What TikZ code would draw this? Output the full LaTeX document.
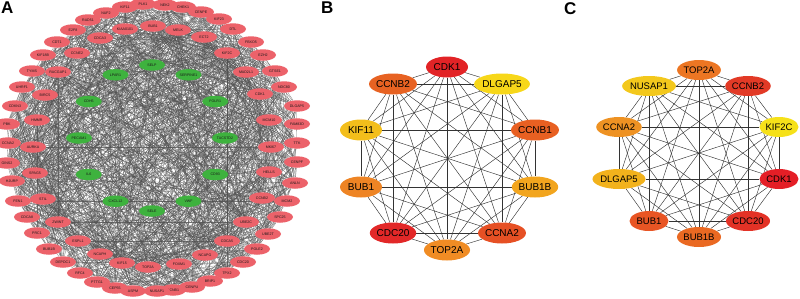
\documentclass[tikz,border=0pt]{standalone}
\usepackage{fontspec}
\setmainfont{Liberation Sans}
\usetikzlibrary{shapes.geometric}
\pgfdeclarelayer{bg}
\pgfsetlayers{bg,main}
\definecolor{nodered}{RGB}{236,98,106}
\definecolor{nodegreen}{RGB}{62,178,62}
\definecolor{edgegray}{RGB}{80,80,80}
% panel B colours
\definecolor{bA}{RGB}{226,35,38}
\definecolor{bB}{RGB}{247,215,25}
\definecolor{bC}{RGB}{231,98,34}
\definecolor{bD}{RGB}{243,190,27}
\definecolor{bE}{RGB}{232,96,34}
\definecolor{bF}{RGB}{238,132,36}
\definecolor{bG}{RGB}{242,165,30}
\definecolor{bH}{RGB}{226,40,40}
\definecolor{bI}{RGB}{230,80,36}
\definecolor{bJ}{RGB}{240,140,36}
% panel C colours
\definecolor{cA}{RGB}{236,118,35}
\definecolor{cB}{RGB}{226,58,38}
\definecolor{cC}{RGB}{246,225,25}
\definecolor{cD}{RGB}{228,30,38}
\definecolor{cE}{RGB}{227,50,38}
\definecolor{cF}{RGB}{234,105,34}
\definecolor{cG}{RGB}{232,85,36}
\definecolor{cH}{RGB}{242,178,28}
\definecolor{cI}{RGB}{238,146,35}
\definecolor{cJ}{RGB}{243,200,28}
\begin{document}
\begin{tikzpicture}[x=1pt,y=-1pt,
  rnode/.style={ellipse,fill=nodered,draw=none,minimum width=26pt,minimum height=11.5pt,inner sep=0pt,font=\fontsize{3.6}{4}\selectfont,text=black!90},
  gnode/.style={ellipse,fill=nodegreen,draw=none,minimum width=26pt,minimum height=11.5pt,inner sep=0pt,font=\fontsize{3.6}{4}\selectfont,text=black!90},
  aedge/.style={draw=edgegray,line width=0.3pt,opacity=0.75},
  bnode/.style={ellipse,draw=none,minimum width=42pt,minimum height=21pt,inner sep=0pt,font=\fontsize{10}{12}\selectfont},
  cnode/.style={ellipse,draw=none,minimum width=39pt,minimum height=20pt,inner sep=0pt,font=\fontsize{9.5}{11}\selectfont},
  kedge/.style={draw=black!80,line width=0.45pt},
  panellabel/.style={font=\fontsize{17}{20}\selectfont\bfseries,anchor=north west,inner sep=0pt}]
\useasboundingbox (0,0) rectangle (800,298);

% ---------- panel labels ----------
\node[panellabel] (labA) at (1,2) {A};
\node[panellabel] (labB) at (321,2) {B};
\node[panellabel] (labC) at (564,2) {C};

% ---------- panel A: red nodes ----------
\foreach \x/\y/\t [count=\i] in {
 125/7/KIF11, 143/4/PLK1, 165/5/NEK2, 183/7/CHEK1, 201/12/CENPE, 219/19/KIF23,
 233/29/DTL, 251/42/FBXO5, 263/55/EZH2, 275/71/GTSE1, 284/87/NDC80, 297/106/DLGAP5,
 297/124/FAM83D, 297/143/TTK, 297/162/CENPF, 295/183/ANLN, 287/201/MCM2, 280/217/SPC25,
 268/234/UBE2T, 257/249/POLE2, 243/262/CDC20, 227/273/TPX2, 210/281/BRIP1, 192/287/CENPU,
 173/290/CCNB1, 157/291/NUSAP1, 133/291/ASPM, 115/288/CEP55, 97/282/PTTG1, 80/273/RFC4,
 63/262/DEPDC1, 49/249/BUB1B, 37/233/PRC1, 27/217/CDCA8, 18/201/FEN1, 12/181/HJURP,
 7/163/GINS2, 8/143/CCNA2, 7/124/PBK, 15/106/CDKN3, 22/87/UHRF1, 32/71/TYMS,
 43/55/KIF18B, 57/42/CDT1, 73/30/E2F8, 88/20/RAD51, 106/13/NUF2,
 153/26/BUB1, 178/30/MELK, 204/37/ECT2, 227/53/KIF2C, 246/72/MAD2L1, 260/94/CDK1,
 269/120/MCM10, 271/147/MKI67, 269/172/HELLS, 262/198/CCNB2, 246/222/UBE2C, 227/241/CDCA5,
 205/255/NCAPG, 179/264/FOXM1, 148/267/TOP2A, 122/263/KIF15, 100/254/NCAPH, 78/241/ESPL1,
 58/222/ZWINT, 43/199/STIL, 35/173/SPAG5, 33/147/AURKA, 37/120/HMMR, 45/95/BIRC5,
 58/72/RACGAP1, 77/53/CCNE2, 100/38/CDCA3, 125/29/KIAA0101}
 \node[rnode] (r\i) at (\x,\y) {\t};

% ---------- panel A: green nodes ----------
\foreach \a/\t [count=\k] in {90/SELP, 60/SERPINE1, 30/FOLR1, 0/TACSTD2, -30/CD93, -60/VWF,
  -90/SELE, -120/CXCL12, -150/IL6, 180/PECAM1, 150/CDH5, 120/LPAR1}
 \node[gnode] (g\k) at ({152+73*cos(\a)},{138-73*sin(\a)}) {\t};

% ---------- panel A: edges ----------
\begin{pgfonlayer}{bg}
\foreach \i in {1,...,75} {
  \foreach \j in {\i,...,75} {
    \pgfmathtruncatemacro\h{mod(\i*37+\j*53+11*mod(\i*\j,97),100)}
    \ifnum\h<40 \ifnum\i<\j \draw[aedge] (r\i) -- (r\j); \fi\fi
  }
}
\foreach \k in {1,...,12} {
  \foreach \i in {1,...,75} {
    \pgfmathtruncatemacro\h{mod(\k*29+\i*17+7*mod(\k*\i,31),100)}
    \ifnum\h<9 \draw[aedge] (g\k) -- (r\i); \fi
  }
}
\end{pgfonlayer}

% ---------- panel B ----------
\foreach \x/\y/\t/\c [count=\i] in {
 447/67/CDK1/bA, 502/84/DLGAP5/bB, 535/130/CCNB1/bE, 535/187/BUB1B/bG, 502/233/CCNA2/bI,
 447/250/TOP2A/bJ, 393/233/CDC20/bH, 361/187/BUB1/bF, 361/130/KIF11/bD, 393/84/CCNB2/bC}
 \node[bnode,fill=\c] (b\i) at (\x,\y) {\t};
\begin{pgfonlayer}{bg}
\foreach \i in {1,...,10} { \foreach \j in {\i,...,10} { \ifnum\i<\j \draw[kedge] (b\i) -- (b\j); \fi } }
\end{pgfonlayer}

% ---------- panel C ----------
\foreach \x/\y/\t/\c [count=\i] in {
 699/70/TOP2A/cA, 748/86/CCNB2/cB, 779/127/KIF2C/cC, 779/179/CDK1/cD, 748/221/CDC20/cE,
 699/237/BUB1B/cF, 649/221/BUB1/cG, 619/179/DLGAP5/cH, 619/127/CCNA2/cI, 649/86/NUSAP1/cJ}
 \node[cnode,fill=\c] (c\i) at (\x,\y) {\t};
\begin{pgfonlayer}{bg}
\foreach \i in {1,...,10} { \foreach \j in {\i,...,10} { \ifnum\i<\j \draw[kedge] (c\i) -- (c\j); \fi } }
\end{pgfonlayer}
\end{tikzpicture}
\end{document}
